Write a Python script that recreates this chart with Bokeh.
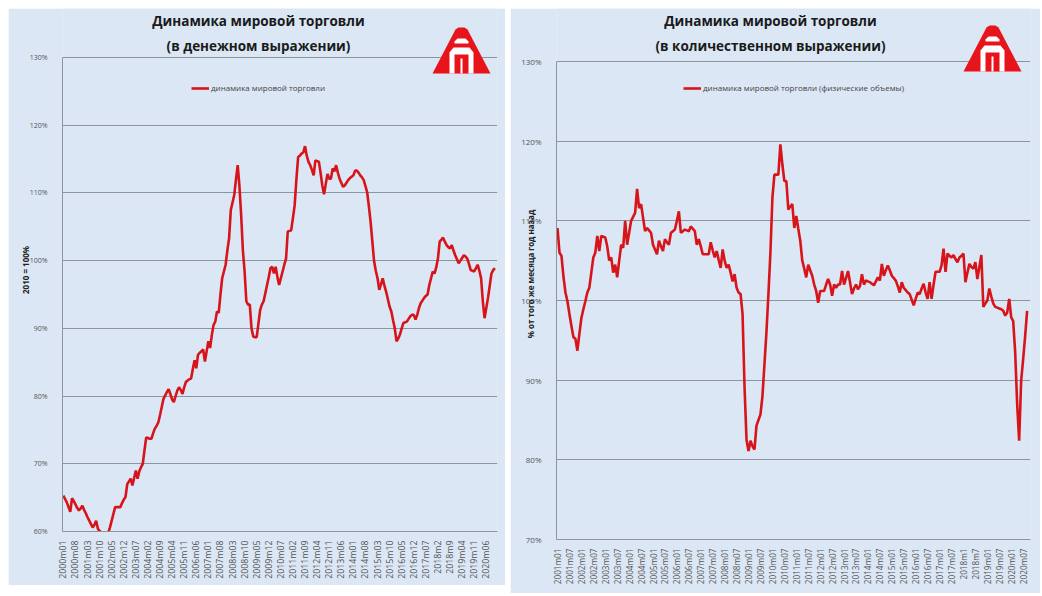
from math import pi
from bokeh.plotting import figure
from bokeh.layouts import row
from bokeh.models import (Range1d, FixedTicker, PrintfTickFormatter, Label, Legend,
                          LegendItem, PolyAnnotation)
from bokeh.embed import file_html
from bokeh.resources import INLINE

# ---------------- data ----------------
# left: world trade in value terms, 2010 = 100%, monthly from 2000m01
left_values = [
    65.3, 64.8, 64.3, 63.6, 62.9, 64.9, 64.5, 64.0, 63.5, 63.1, 63.4, 63.8,   # 2000
    63.2, 62.7, 62.1, 61.6, 61.1, 60.6, 61.0, 61.6, 60.4, 60.1, 59.7, 59.5,   # 2001
    59.4, 59.2, 59.8, 60.6, 61.6, 62.6, 63.6, 63.6, 63.6, 63.6, 64.2, 64.7,   # 2002
    65.1, 67.0, 67.4, 67.8, 66.8, 67.9, 69.0, 67.8, 68.9, 69.5, 70.0, 72.0,   # 2003
    73.9, 73.8, 73.7, 73.7, 74.5, 75.2, 75.6, 76.1, 77.2, 78.4, 79.6, 80.1,   # 2004
    80.6, 81.0, 80.3, 79.5, 79.1, 80.0, 80.8, 81.3, 80.9, 80.3, 81.3, 82.1,   # 2005
    82.3, 82.5, 82.6, 84.0, 85.3, 84.1, 86.1, 86.4, 86.6, 86.9, 85.1, 86.6,   # 2006
    88.1, 87.1, 89.0, 90.5, 91.0, 92.5, 92.3, 95.0, 97.4, 98.4, 99.4, 101.5,  # 2007
    103.3, 107.5, 108.6, 109.7, 112.0, 114.1, 111.0, 106.7, 101.5, 98.4, 94.0, 93.5,  # 2008
    93.5, 90.0, 88.8, 88.7, 88.7, 90.7, 92.7, 93.5, 94.0, 95.2, 96.4, 97.6,   # 2009
    98.9, 99.1, 98.1, 99.1, 97.6, 96.4, 97.4, 98.4, 99.4, 100.3, 104.3, 104.4,  # 2010
    104.5, 106.3, 108.2, 112.0, 115.3, 115.5, 115.8, 116.0, 116.9, 115.5, 114.6, 114.1,  # 2011
    113.4, 112.6, 114.8, 114.7, 114.6, 113.0, 111.1, 109.8, 111.3, 112.8, 112.1, 112.1,  # 2012
    113.6, 113.2, 114.1, 113.0, 112.1, 111.5, 110.9, 111.1, 111.5, 111.9, 112.2, 112.4,  # 2013
    112.6, 113.3, 113.3, 113.0, 112.6, 112.3, 111.9, 111.0, 110.1, 108.0, 105.7, 102.8,  # 2014
    99.9, 98.5, 97.4, 95.7, 96.5, 97.4, 96.3, 95.4, 94.3, 93.2, 92.5, 91.2,   # 2015
    90.0, 88.1, 88.5, 89.1, 90.0, 90.8, 90.9, 91.0, 91.4, 91.8, 92.0, 92.0,   # 2016
    91.3, 92.0, 93.0, 93.7, 94.1, 94.5, 94.8, 95.0, 96.4, 97.4, 98.4, 98.1,   # 2017
    99.0, 100.3, 102.8, 103.1, 103.4, 102.8, 102.3, 102.0, 101.8, 102.3, 101.5, 100.8,  # 2018
    100.2, 99.6, 100.0, 100.4, 100.8, 100.6, 100.3, 99.5, 98.6, 98.5, 98.4, 98.9,  # 2019
    99.4, 98.5, 97.4, 94.0, 91.5, 93.0, 94.5, 96.3, 98.1, 98.6, 98.9,          # 2020
]
left_tick_labels = [
    "2000m01", "2000m08", "2001m03", "2001m10", "2002m05", "2002m12", "2003m07",
    "2004m02", "2004m09", "2005m04", "2005m11", "2006m06", "2007m01", "2007m08",
    "2008m03", "2008m10", "2009m05", "2009m12", "2010m07", "2011m02", "2011m09",
    "2012m04", "2012m11", "2013m06", "2014m01", "2014m08", "2015m03", "2015m10",
    "2016m05", "2016m12", "2017m07", "2018m2", "2018m9", "2019m04", "2019m11",
    "2020m06",
]
left_y_ticks = [60, 70, 80, 90, 100, 110, 120, 130]

# right: world trade volume, % of the same month a year earlier, monthly from 2001m01
right_values = [
    109.1, 106.0, 105.6, 103.0, 101.0, 99.9, 98.3, 96.8, 95.4, 95.2, 93.7, 95.8,   # 2001
    97.8, 98.9, 99.9, 101.0, 101.6, 103.5, 105.4, 106.0, 108.1, 106.2, 108.1, 108.0,  # 2002
    107.9, 106.8, 105.0, 105.4, 103.5, 104.5, 102.9, 105.0, 107.0, 106.6, 110.0, 107.0,  # 2003
    108.5, 110.0, 110.5, 111.0, 114.0, 111.6, 112.1, 110.4, 108.7, 109.1, 108.8, 108.5,  # 2004
    107.0, 106.4, 105.8, 107.5, 106.8, 106.2, 107.7, 107.3, 107.0, 108.5, 108.7, 108.9,  # 2005
    110.0, 111.2, 108.5, 108.7, 108.9, 108.8, 108.7, 109.3, 109.0, 108.7, 107.0, 107.7,  # 2006
    106.8, 105.8, 105.8, 105.8, 105.8, 107.3, 106.3, 105.4, 106.2, 105.1, 104.1, 106.4,  # 2007
    105.0, 104.1, 104.5, 103.5, 102.4, 103.3, 101.6, 101.0, 100.8, 98.3, 89.1, 82.5,  # 2008
    81.1, 82.4, 81.7, 81.3, 84.3, 85.0, 85.7, 88.0, 92.0, 96.0, 100.8, 106.0,  # 2009
    112.9, 115.8, 115.8, 115.8, 119.6, 117.1, 115.0, 115.0, 111.4, 111.8, 112.1, 109.1,  # 2010
    110.6, 109.0, 107.5, 105.0, 104.0, 102.9, 104.5, 103.8, 103.1, 102.0, 101.2, 99.7,  # 2011
    101.2, 101.2, 101.2, 102.0, 102.7, 102.0, 100.6, 102.0, 101.6, 102.0, 102.0, 103.7,  # 2012
    102.0, 102.8, 103.7, 102.3, 100.8, 101.5, 102.0, 101.4, 101.8, 103.3, 102.0, 102.5,  # 2013
    102.4, 102.3, 102.1, 101.9, 102.4, 102.9, 102.5, 104.6, 103.1, 103.8, 104.4, 103.8,  # 2014
    103.1, 102.8, 102.5, 101.8, 101.0, 102.3, 101.6, 101.3, 101.0, 100.8, 100.1, 99.4,  # 2015
    100.2, 101.0, 100.8, 101.5, 102.1, 101.0, 100.2, 102.3, 100.2, 102.0, 103.6, 103.6,  # 2016
    103.6, 104.4, 106.5, 103.6, 105.9, 105.6, 105.4, 105.7, 105.2, 104.8, 105.4, 105.6,  # 2017
    105.9, 102.3, 103.5, 104.6, 104.2, 104.0, 104.8, 102.7, 104.2, 105.7, 99.2, 99.6,  # 2018
    100.0, 101.5, 100.5, 99.6, 99.2, 99.1, 99.0, 98.9, 98.7, 98.1, 98.5, 100.2,  # 2019
    97.9, 97.4, 93.5, 87.0, 82.4, 89.9, 92.6, 95.5, 98.7,                      # 2020
]
right_tick_labels = [
    "2001m01", "2001m07", "2002m01", "2002m07", "2003m01", "2003m07", "2004m01",
    "2004m07", "2005m01", "2005m07", "2006m01", "2006m07", "2007m01", "2007m07",
    "2008m01", "2008m07", "2009m01", "2009m07", "2010m01", "2010m07", "2011m01",
    "2011m07", "2012m01", "2012m07", "2013m01", "2013m07", "2014m01", "2014m07",
    "2015m01", "2015m07", "2016m01", "2016m07", "2017m01", "2017m07", "2018m1",
    "2018m7", "2019m01", "2019m07", "2020m01", "2020m07",
]
right_y_ticks = [70, 80, 90, 100, 110, 120, 130]

left_title = ["Динамика мировой торговли", "(в денежном выражении)"]
right_title = ["Динамика мировой торговли", "(в количественном выражении)"]
left_series = "динамика мировой торговли"
right_series = "динамика мировой торговли (физические объемы)"
left_ylabel = "2010 = 100%"
right_ylabel = "% от того же месяца год назад"

# ---------------- style ----------------
BG = "#dbe7f4"
GRID = "#8e949b"
RED = "#d8141b"
TXT = "#555555"
FONT = "Open Sans"
BOTTOM = 54


def month_index(label, base_year):
    y, m = label.split("m")
    return (int(y) - base_year) * 12 + int(m) - 1


def make_panel(values, base_year, tick_labels, y_ticks, x_end, y_range, width, height,
               bl, br, margin, title, title_cx, series, ylabel, ylabel_standoff,
               ylabel_align, legend_loc, logo_lt, tick_font, ytick_font):
    p = figure(width=width, height=height, output_backend="svg", toolbar_location=None,
               x_range=Range1d(-0.5, x_end), y_range=Range1d(*y_range),
               min_border_left=bl, min_border_right=br, min_border_top=0,
               min_border_bottom=BOTTOM, margin=margin)
    p.background_fill_color = BG
    p.border_fill_color = BG
    p.outline_line_color = None
    p.xgrid.visible = False
    p.ygrid.grid_line_color = GRID
    p.ygrid.grid_line_width = 1

    xs = list(range(len(values)))
    r = p.line(xs, values, line_color=RED, line_width=2.6)

    tick_pos = [month_index(t, base_year) for t in tick_labels]
    p.xaxis.ticker = FixedTicker(ticks=tick_pos)
    p.xaxis.major_label_overrides = {pos: lab for pos, lab in zip(tick_pos, tick_labels)}
    p.xaxis.major_label_orientation = pi / 2
    p.xaxis.major_label_text_font = FONT
    p.xaxis.major_label_text_font_size = tick_font
    p.xaxis.major_label_text_color = TXT
    p.xaxis.major_label_standoff = 3
    p.xaxis.major_tick_line_color = None
    p.xaxis.minor_tick_line_color = None
    p.xaxis.axis_line_color = GRID

    p.yaxis.ticker = FixedTicker(ticks=y_ticks)
    p.yaxis.bounds = (y_ticks[0], y_ticks[-1])
    p.yaxis.formatter = PrintfTickFormatter(format="%d%%")
    p.yaxis.major_label_text_font = FONT
    p.yaxis.major_label_text_font_size = ytick_font
    p.yaxis.major_label_text_color = TXT
    p.yaxis.major_label_standoff = 9
    p.yaxis.major_tick_line_color = None
    p.yaxis.minor_tick_line_color = None
    p.yaxis.axis_line_color = GRID
    p.yaxis.axis_label = ylabel
    p.yaxis.axis_label_text_font = FONT
    p.yaxis.axis_label_text_font_style = "bold"
    p.yaxis.axis_label_text_font_size = "8px"
    p.yaxis.axis_label_text_color = "#222222"
    p.yaxis.axis_label_standoff = ylabel_standoff
    p.yaxis.axis_label_text_align = ylabel_align

    # titles (canvas coordinates, inside the frame area)
    for i, t in enumerate(title):
        p.add_layout(Label(x=title_cx, y=12 + 25 * i, x_units="canvas", y_units="canvas",
                           text=t, text_align="center", text_baseline="middle",
                           text_font=FONT, text_font_style="bold",
                           text_font_size="13.5px", text_color="#1a1a1a"))

    leg = Legend(items=[LegendItem(label=series, renderers=[r])], location=legend_loc,
                 orientation="horizontal", background_fill_alpha=0, border_line_color=None,
                 padding=0, margin=0, spacing=0, label_standoff=2, glyph_width=18,
                 glyph_height=8, label_text_font=FONT, label_text_font_size="8px",
                 label_text_color="#444444", label_height=8)
    p.add_layout(leg)

    # logo
    L, T = logo_lt
    outer = [(L + 23, T + 2), (L + 26, T), (L + 32, T), (L + 35, T + 2), (L + 58, T + 46),
             (L, T + 46)]
    arch = [(L + 17, T + 46), (L + 17, T + 25), (L + 21, T + 20), (L + 37, T + 20),
            (L + 41, T + 25), (L + 41, T + 46)]
    inner = [(L + 22, T + 46), (L + 22, T + 27), (L + 36, T + 27), (L + 36, T + 46)]
    leg_mid = [(L + 28, T + 31), (L + 30, T + 31), (L + 30, T + 46), (L + 28, T + 46)]
    bar = [(L + 22, T + 14), (L + 25, T + 11), (L + 33, T + 11), (L + 36, T + 14),
           (L + 36, T + 16), (L + 22, T + 16)]
    for poly, col in ((outer, "#e8141c"), (arch, "white"), (inner, "#e8141c"),
                      (leg_mid, "white"), (bar, "white")):
        p.add_layout(PolyAnnotation(xs=[a for a, b in poly], ys=[b for a, b in poly],
                                    xs_units="canvas", ys_units="canvas",
                                    fill_color=col, fill_alpha=1, line_color=None))
    return p


# left panel: page x 8..505; frame x 62..497; 130% at y 57, 60% at y 531
left = make_panel(left_values, 2000, left_tick_labels, left_y_ticks, 251.5,
                  (60, 137.24), 497, 531 - 8 + BOTTOM, 54, 8, (8, 0, 0, 8),
                  left_title, 250, left_series, left_ylabel, -4, "right", (129, 438),
                  (424, 19), "8.8px", "7px")
# right panel: page x 510..1040; frame x 556..1030; 130% at y 61, 70% at y 539
right = make_panel(right_values, 2001, right_tick_labels, right_y_ticks, 237.7,
                   (70, 136.65), 530, 539 - 8 + BOTTOM, 46, 10, (8, 0, 0, 5),
                   right_title, 260, right_series, right_ylabel, -18, "center", (127, 446),
                   (453, 17), "8.2px", "8px")

layout = row(left, right, spacing=0)
open("out.html", "w").write(file_html(layout, INLINE))
